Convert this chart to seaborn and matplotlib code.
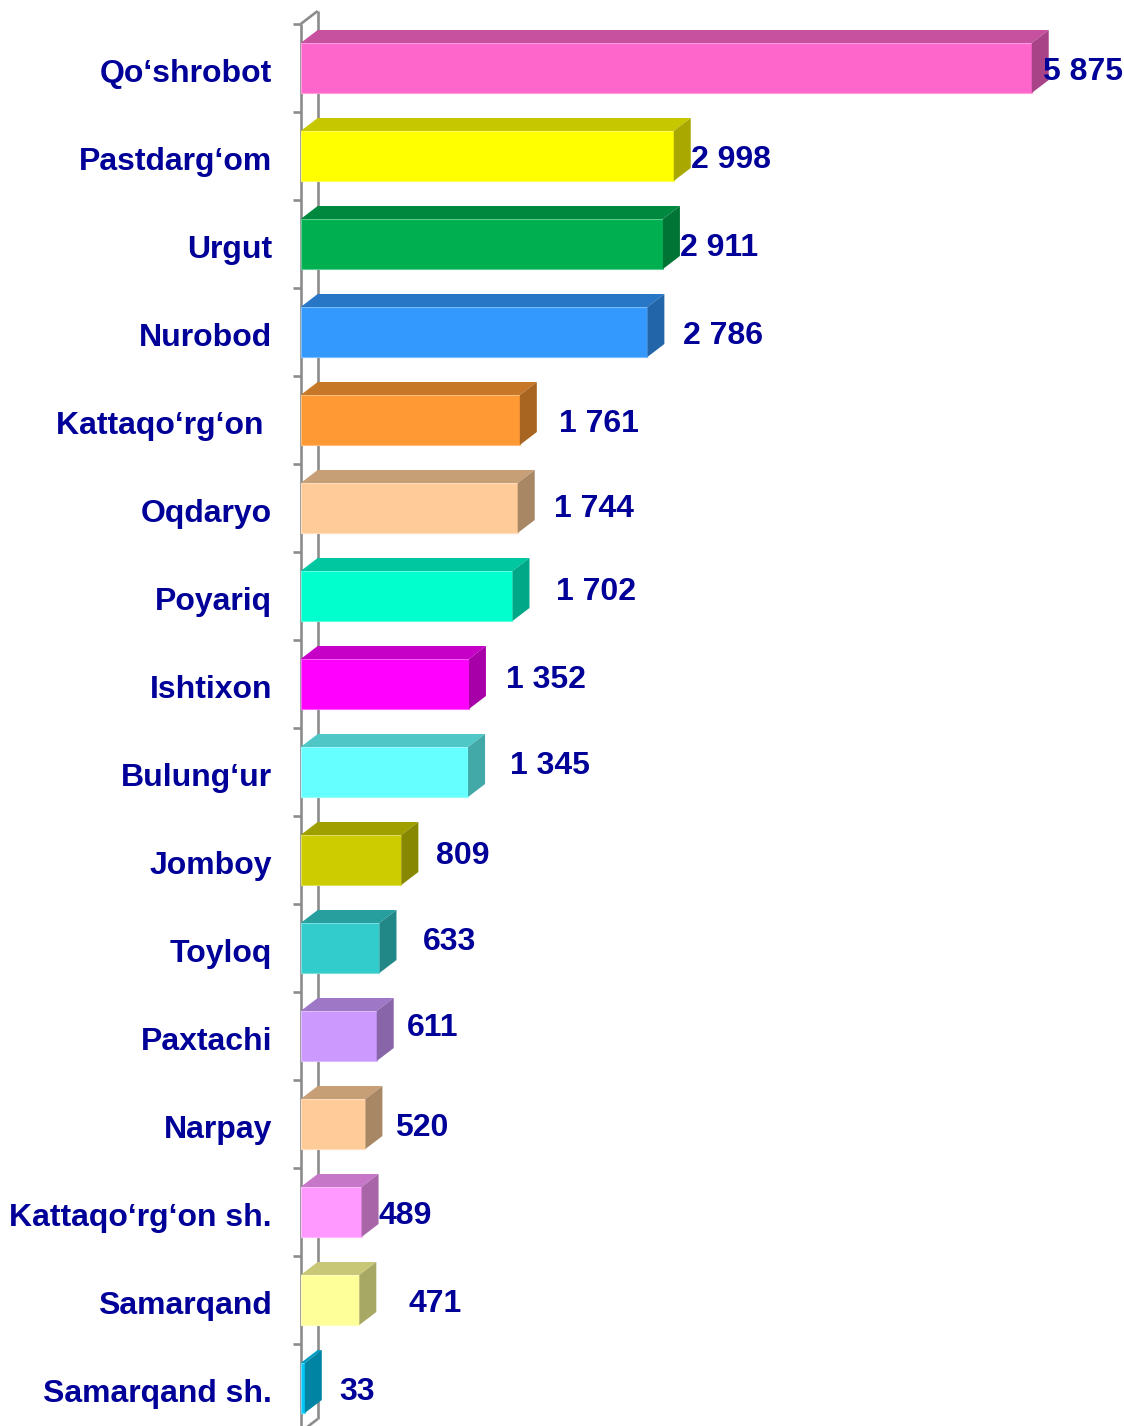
import numpy as np
import pandas as pd
import matplotlib
matplotlib.use("Agg")
import matplotlib.pyplot as plt
from matplotlib.patches import Polygon
import matplotlib.colors as mcolors
import seaborn as sns

# District names and their values
districts = ["Qo‘shrobot", "Pastdarg‘om", "Urgut", "Nurobod", "Kattaqo‘rg‘on ",
             "Oqdaryo", "Poyariq", "Ishtixon", "Bulung‘ur", "Jomboy", "Toyloq",
             "Paxtachi", "Narpay", "Kattaqo‘rg‘on sh.", "Samarqand", "Samarqand sh."]
values = [5875, 2998, 2911, 2786, 1761, 1744, 1702, 1352, 1345, 809, 633,
          611, 520, 489, 471, 33]
value_labels = ["5 875", "2 998", "2 911", "2 786", "1 761", "1 744", "1 702",
                "1 352", "1 345", "809", "633", "611", "520", "489", "471", "33"]

# Bar front colours
bar_colors = ["#FF66CC", "#FFFF00", "#00B050", "#3399FF", "#FF9933", "#FFCC99",
              "#00FFCC", "#FF00FF", "#66FFFF", "#CCCC00", "#33CCCC", "#CC99FF",
              "#FFCC99", "#FF99FF", "#FFFF99", "#00C8F8"]

# Per-label nudges (pixels) for the value annotations
label_dx_px = [-6, 0, 0, 19, 22, 19, 27, 20, 25, 18, 26, 13, 13, 0, 32, 17]
label_dy_px = [4, 4, 4, 4, 4, 1, -4, -4, -6, -4, -6, -8, 4, 4, 4, 4]

W, H, DPI = 1124, 1426, 100
TEXT = "#000099"
WALL = "#8C8C8C"

sns.set_theme(style="white")
plt.rcParams["font.family"] = ["Liberation Sans", "DejaVu Sans"]

fig = plt.figure(figsize=(W / DPI, H / DPI), dpi=DPI)
x0_px = 300.7
ax = fig.add_axes([x0_px / W, 0, (W - x0_px) / W, 1])

px_per_unit = 0.12443
px_per_cat = 88.0
y0_px = 68.0


def shade(c, f):
    r, g, b = mcolors.to_rgb(c)
    return (r * f, g * f, b * f)


def tint(c, f):
    r, g, b = mcolors.to_rgb(c)
    return (r + (1 - r) * f, g + (1 - g) * f, b + (1 - b) * f)


df = pd.DataFrame({"district": districts, "value": values})
sns.barplot(data=df, x="value", y="district", hue="district", palette=bar_colors,
            orient="h", width=50 / 88, legend=False, ax=ax, saturation=1,
            edgecolor="none", zorder=3)

dx = 17 / px_per_unit      # depth in value units
dy = 13 / px_per_cat       # depth in category units

# 3D faces on top of each front face
for patch, col in zip(ax.patches, bar_colors):
    patch.set_edgecolor(tint(col, 0.35))
    patch.set_linewidth(0.8)
    x, y = patch.get_x(), patch.get_y()
    w, h = patch.get_width(), patch.get_height()
    top = Polygon([(x, y), (x + dx, y - dy), (x + w + dx, y - dy), (x + w, y)],
                  closed=True, facecolor=shade(col, 0.78), edgecolor="none", zorder=3)
    side = Polygon([(x + w, y), (x + w + dx, y - dy), (x + w + dx, y + h - dy), (x + w, y + h)],
                   closed=True, facecolor=shade(col, 0.66), edgecolor="none", zorder=3)
    ax.add_patch(top)
    ax.add_patch(side)

# Axis wall
n = len(districts)
ytop, ybot = -0.5, n - 0.5
wall_kw = dict(color=WALL, lw=1.9, solid_capstyle="butt", clip_on=False, zorder=1)
ax.plot([0, 0], [ytop, ybot], **wall_kw)
ax.plot([dx, dx], [ytop - dy, ybot - dy], **wall_kw)
ax.plot([0, dx], [ytop, ytop - dy], **wall_kw)
ax.plot([0, dx], [ybot, ybot - dy], **wall_kw)

# Boundary ticks on the wall; category names drawn as text
ax.set_yticks(np.arange(n))
ax.set_yticklabels([])
ax.set_yticks(np.arange(-0.5, n, 1), minor=True)
ax.tick_params(axis="y", which="major", length=0)
ax.tick_params(axis="y", which="minor", length=6, width=1.9, color=WALL, left=True)
ax.set_xticks([])
ax.set_xlabel("")
ax.set_ylabel("")
for s in ax.spines.values():
    s.set_visible(False)

# Fix the view after all ticks are set
ax.set_xlim(0, (W - x0_px) / px_per_unit)
ax.set_ylim((H - y0_px) / px_per_cat, -y0_px / px_per_cat)

name_x = -(x0_px - 272) / px_per_unit
for i, name in enumerate(districts):
    ax.text(name_x, i + 2.5 / px_per_cat, name, ha="right", va="center_baseline",
            fontsize=23, fontweight="bold", color=TEXT, clip_on=False)

# Value annotations
for i, (v, lab) in enumerate(zip(values, value_labels)):
    xl = v + dx + label_dx_px[i] / px_per_unit
    ax.text(xl, i + label_dy_px[i] / px_per_cat, lab, ha="left", va="center",
            fontsize=23, fontweight="bold", color=TEXT, zorder=5, clip_on=False)

fig.savefig("out.png", dpi=DPI, facecolor="white")
